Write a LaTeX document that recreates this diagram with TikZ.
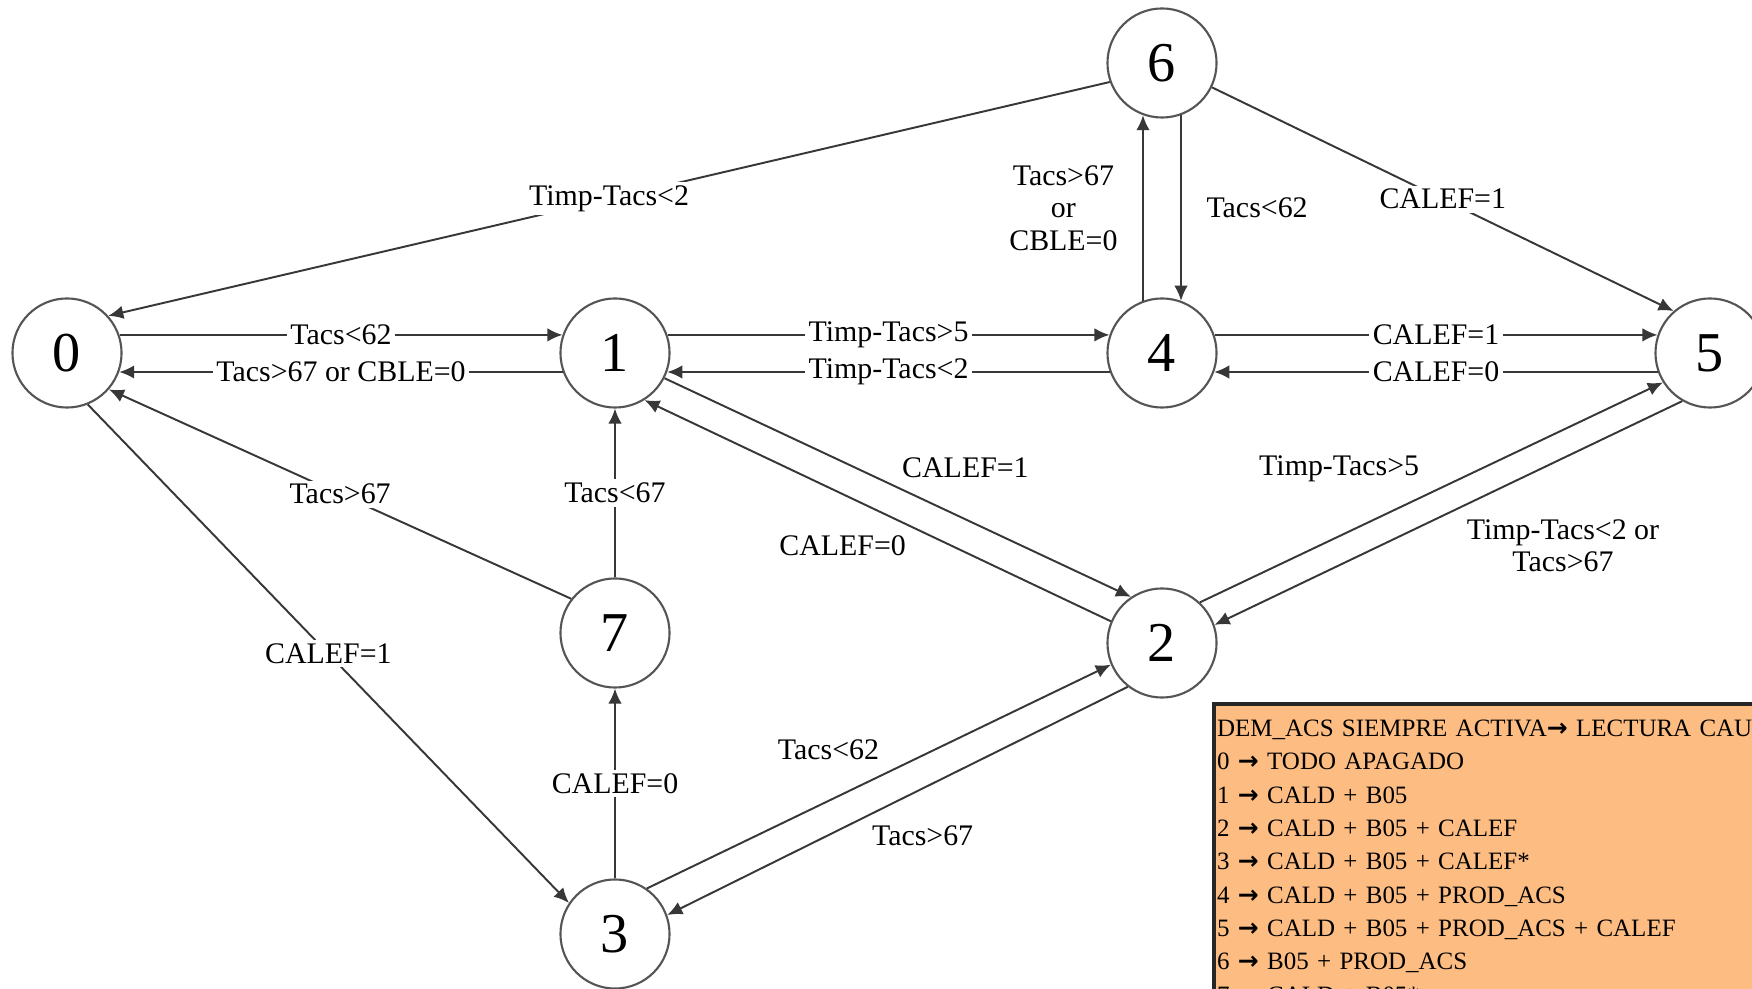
\documentclass[tikz,border=0pt]{standalone}
\usepackage{fontspec}
\setmainfont{Liberation Serif}
\newfontfamily\arrowfont{DejaVu Sans}
\usetikzlibrary{arrows.meta, positioning}
\definecolor{stline}{RGB}{55,55,55}
\definecolor{stborder}{RGB}{85,85,85}
\definecolor{legorange}{RGB}{252,188,130}
\newcommand{\legarr}{{\arrowfont\bfseries →}}
\tikzset{
  %% ---- states ----
  state/.style  = {circle, draw=stborder, line width=0.6pt, fill=white,
                   minimum size=1.09cm, inner sep=0pt,
                   font=\fontsize{16}{16}\selectfont},
  %% ---- labels ----
  lbl/.style    = {font=\fontsize{8.5}{9.2}\selectfont, text=black,
                   inner sep=1pt},
  cut/.style    = {lbl, fill=white},
  legend/.style = {rectangle, draw=black!85, line width=1.2pt,
                   fill=legorange, text width=6.5cm, align=left,
                   inner xsep=0.03cm, inner ysep=0.16cm,
                   font=\fontsize{7.1}{9.47}\selectfont},
  %% ---- arrows ----
  arrow/.style  = {-{Latex[length=1.5mm,width=1.35mm]}, line width=0.55pt,
                   color=stline},
}

\begin{document}
\begin{tikzpicture}[x=0.01cm, y=-0.01cm]

  \clip (0,0) rectangle (1752,989);
  \fill[white] (0,0) rectangle (1752,989);

  %% states
  \node[state] (s0) at (67,353)   {0};
  \node[state] (s1) at (615,353)  {1};
  \node[state] (s4) at (1162,353) {4};
  \node[state] (s5) at (1710,353) {5};
  \node[state] (s6) at (1162,63)  {6};
  \node[state] (s7) at (615,633)  {7};
  \node[state] (s2) at (1162,643) {2};
  \node[state] (s3) at (615,934)  {3};

  %% transitions with the label on the line
  \foreach \a/\b/\t in {s0.19/s1.161/{Tacs<62},
                        s1.200/s0.-20/{Tacs>67 or CBLE=0},
                        s1.19/s4.161/{Timp-Tacs>5},
                        s4.200/s1.-20/{Timp-Tacs<2},
                        s4.19/s5.161/{CALEF=1},
                        s5.200/s4.-20/{CALEF=0},
                        s6.200/s0.42/{Timp-Tacs<2},
                        s6.-26/s5.131/{CALEF=1},
                        s0.-68/s3.146/{CALEF=1},
                        s7.142/s0.-41/{Tacs>67},
                        s7.north/s1.south/{Tacs<67},
                        s3.north/s7.south/{CALEF=0}}
    \draw[arrow] (\a) -- node[cut] {\t} (\b);

  %% transitions with the label beside the line
  \draw[arrow] (s4.110) -- node[lbl, align=center, left=0.21cm]
    {Tacs>67\\or\\CBLE=0} (s6.250);
  \draw[arrow] (s6.290) -- node[lbl, right=0.21cm] {Tacs<62} (s4.70);

  \draw[arrow] (s1.-27) -- node[lbl, pos=.5, anchor=south west,
    yshift=0.05cm] {CALEF=1} (s2.124);
  \draw[arrow] (s2.157) -- node[lbl, pos=.43, anchor=north east,
    yshift=-0.05cm] {CALEF=0} (s1.-58);

  \draw[arrow] (s2.47) -- node[lbl, pos=.483, anchor=south east,
    yshift=0.1cm] {Timp-Tacs>5} (s5.212);
  \draw[arrow] (s5.240) -- node[lbl, pos=.47, anchor=north west,
    yshift=-0.09cm, align=center] {Timp-Tacs<2 or\\Tacs>67} (s2.19);

  \draw[arrow] (s3.55) -- node[lbl, pos=.51, anchor=south east,
    yshift=0.1cm] {Tacs<62} (s2.203);
  \draw[arrow] (s2.232) -- node[lbl, pos=.565, anchor=north west,
    yshift=-0.05cm] {Tacs>67} (s3.20);

  %% legend
  \node[legend, anchor=north west] (leg) at (1212,702)
    {DEM\_ACS SIEMPRE ACTIVA\legarr{} LECTURA CAUDAL\\
     0 \legarr{} TODO APAGADO\\
     1 \legarr{} CALD + B05\\
     2 \legarr{} CALD + B05 + CALEF\\
     3 \legarr{} CALD + B05 + CALEF*\\
     4 \legarr{} CALD + B05 + PROD\_ACS\\
     5 \legarr{} CALD + B05 + PROD\_ACS + CALEF\\
     6 \legarr{} B05 + PROD\_ACS\\
     7 \legarr{} CALD + B05*};

\end{tikzpicture}
\end{document}
